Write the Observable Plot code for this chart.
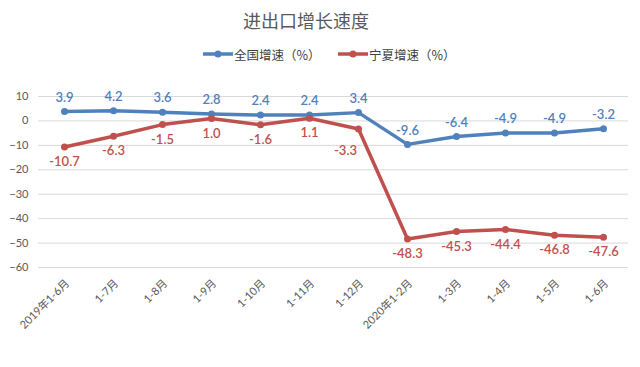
<!DOCTYPE html>
<html><head><meta charset="utf-8">
<script src="https://cdn.jsdelivr.net/npm/d3@7"></script>
<script src="https://cdn.jsdelivr.net/npm/@observablehq/plot@0.6"></script>
<style>
body{margin:0;background:#fff;font-family:Lato,"Noto Sans CJK SC",sans-serif;}
#wrap{width:640px;height:367px;position:relative;overflow:hidden;}
#title{height:40px;line-height:40px;width:612px;text-align:center;font-size:18px;color:#595959;font-family:"Noto Sans CJK SC",sans-serif;}
#legend{height:28px;position:relative;font-size:12.5px;color:#404040;font-family:"Noto Sans CJK SC",sans-serif;}
.item{position:absolute;top:0;height:28px;display:flex;align-items:center;}
.item svg{margin-right:1px;}
</style></head>
<body><div id="wrap">
<div id="title">进出口增长速度</div>
<div id="legend"></div>
<div id="chart"></div>
</div>
<script>
const categories = ["2019年1-6月","1-7月","1-8月","1-9月","1-10月","1-11月","1-12月","2020年1-2月","1-3月","1-4月","1-5月","1-6月"];
const national = [3.9, 4.2, 3.6, 2.8, 2.4, 2.4, 3.4, -9.6, -6.4, -4.9, -4.9, -3.2];
const ningxia = [-10.7, -6.3, -1.5, 1.0, -1.6, 1.1, -3.3, -48.3, -45.3, -44.4, -46.8, -47.6];
const seriesNames = ["全国增速（%）", "宁夏增速（%）"];
const yTicks = [-60, -50, -40, -30, -20, -10, 0, 10];

const colors = ["#4f81bd", "#c0504d"];
const rows = [];
categories.forEach((c, i) => {
  rows.push({cat: c, v: national[i], s: seriesNames[0], i});
  rows.push({cat: c, v: ningxia[i], s: seriesNames[1], i});
});
const nat = rows.filter(d => d.s === seriesNames[0]);
const nx = rows.filter(d => d.s === seriesNames[1]);
const nxMain = nx.filter(d => d.cat !== "1-12月");
const nxShift = nx.filter(d => d.cat === "1-12月");

// legend
const legend = document.getElementById("legend");
[203, 338].forEach((left, i) => {
  const div = document.createElement("div");
  div.className = "item";
  div.style.left = left + "px";
  div.innerHTML = `<svg width="30" height="10"><line x1="0" x2="30" y1="5" y2="5" stroke="${colors[i]}" stroke-width="3.5"/><circle cx="15" cy="5" r="3.5" fill="${colors[i]}"/></svg><span>${seriesNames[i]}</span>`;
  legend.appendChild(div);
});

const labelFont = {fontSize: 13, fontWeight: 600};
const chart = Plot.plot({
  width: 640,
  height: 299,
  marginTop: 28,
  marginBottom: 100,
  marginLeft: 38,
  marginRight: 12,
  style: {fontFamily: 'Lato, "Noto Sans CJK SC", sans-serif', fontSize: "11px", color: "#595959", background: "#fff"},
  x: {type: "point", domain: categories, padding: 0.5, label: null},
  y: {domain: [-60, 10], label: null},
  marks: [
    Plot.gridY(yTicks, {stroke: "#d9d9d9", strokeOpacity: 1, strokeWidth: 1}),
    Plot.axisY(yTicks, {tickSize: 0, tickPadding: 10, fontSize: 11, fill: "#595959", label: null}),
    Plot.axisX({tickSize: 0, tickPadding: 14, dx: 3, tickRotate: -45, fontSize: 11, fill: "#595959", label: null}),
    Plot.lineY(nat, {x: "cat", y: "v", stroke: colors[0], strokeWidth: 3.5}),
    Plot.lineY(nx, {x: "cat", y: "v", stroke: colors[1], strokeWidth: 3.5}),
    Plot.dot(nat, {x: "cat", y: "v", r: 3.5, fill: colors[0]}),
    Plot.dot(nx, {x: "cat", y: "v", r: 3.5, fill: colors[1]}),
    Plot.text(nat, {x: "cat", y: "v", text: d => d.v.toFixed(1), dy: -14, fill: colors[0], ...labelFont}),
    Plot.text(nxMain, {x: "cat", y: "v", text: d => d.v.toFixed(1), dy: 15, fill: colors[1], ...labelFont}),
    Plot.text(nxShift, {x: "cat", y: "v", text: d => d.v.toFixed(1), dy: 22, dx: -13, fill: colors[1], ...labelFont})
  ]
});
document.getElementById("chart").appendChild(chart);
</script>
</body></html>
